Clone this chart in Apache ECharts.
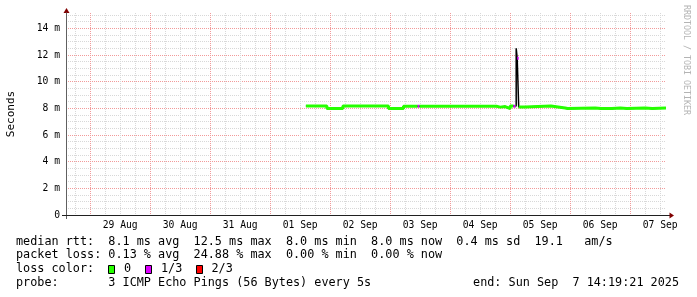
<!DOCTYPE html>
<html><head><meta charset="utf-8">
<script src="https://cdn.jsdelivr.net/npm/echarts@6/dist/echarts.min.js"></script>
<style>html,body{margin:0;padding:0;background:#fff}#c{width:697px;height:297px}</style>
</head><body><div id="c"></div>
<script>
// ---- data ----
const RANGE_START = '08-28 14:19:21';
const RANGE_END = '09-07 14:19:21';
const TIMES = ['09-01 14:17','09-01 22:41','09-02 05:05','09-02 23:19','09-03 05:19','09-03 11:00','09-03 11:40',
  '09-04 16:00','09-04 18:30','09-04 20:00','09-04 22:00','09-05 00:00','09-05 01:19','09-05 02:07',
  '09-05 02:24','09-05 02:48','09-05 03:24','09-05 06:00','09-05 16:17','09-05 22:00','09-05 22:55',
  '09-06 10:00','09-06 12:17','09-06 13:05','09-06 16:41','09-06 20:00','09-06 22:41','09-07 06:00',
  '09-07 08:48','09-07 14:19'];
const MEDIAN_MS = [8.17,7.99,8.17,7.99,8.16,8.16,8.16,
  8.15,8.09,8.13,7.98,8.18,8.15,8.17,
  12.5,11.75,8.10,8.17,8.03,7.99,8.03,
  7.98,8.05,7.99,8.03,7.99,8.02,7.99,
  8.02,8.02];
const LOSS = [0,0,0,0,0,1,0,
  0,0,0,0,0,1,0,
  null,1,0,0,0,0,0,
  0,0,0,0,0,0,0,
  0,0];
const LOSS_COLORS = ['#26ff00','#dd00ff','#ff0000'];
const LOSS_LABELS = ['0','1/3','2/3'];
const Y_TICKS = [0,2,4,6,8,10,12,14];
const Y_TICK_LABELS = ['0','2 m','4 m','6 m','8 m','10 m','12 m','14 m'];
const Y_MAX = 15.15;
const DAY_LABELS = ['29 Aug','30 Aug','31 Aug','01 Sep','02 Sep','03 Sep','04 Sep','05 Sep','06 Sep','07 Sep'];
const LEGEND_LINE1 = 'median rtt:  8.1 ms avg  12.5 ms max  8.0 ms min  8.0 ms now  0.4 ms sd  19.1   am/s';
const LEGEND_LINE2 = 'packet loss: 0.13 % avg  24.88 % max  0.00 % min  0.00 % now';
const LEGEND_LINE3 = 'loss color:';
const LEGEND_LINE4 = 'probe:       3 ICMP Echo Pings (56 Bytes) every 5s';
const END_TEXT = 'end: Sun Sep  7 14:19:21 2025';
const Y_NAME = 'Seconds';
const WATERMARK = 'RRDTOOL / TOBI OETIKER';

// ---- helpers ----
function hrs(s){
  const m = s.match(/(\d+)-(\d+) (\d+):(\d+)(?::(\d+))?/);
  return (Date.UTC(2025,+m[1]-1,+m[2],+m[3],+m[4],+(m[5]||0)) - Date.UTC(2025,7,28))/3600000;
}
const H = TIMES.map(hrs);
const X_MIN = hrs(RANGE_START), X_MAX = hrs(RANGE_END);
const minorX=[], majorX=[], noonX=[];
for(let h=Math.ceil(X_MIN/6)*6; h<X_MAX; h+=6){ if(h%24!==0) minorX.push(h); else majorX.push(h); }
DAY_LABELS.forEach((d,i)=>{ noonX.push(majorX[i]+12); });
const minorY=[], majorY=Y_TICKS.filter(v=>v>0);
for(let v=0.5; v<=Y_MAX; v+=0.5){ if(v%2!==0) minorY.push(v); }

function segs(level){
  const out=[]; let open=false;
  for(let i=0;i<H.length-1;i++){
    if(LOSS[i]===level){
      if(!open && out.length) out.push([H[i],'-']);
      out.push([H[i],MEDIAN_MS[i]]); out.push([H[i+1],MEDIAN_MS[i]]);
      open=true;
    } else open=false;
  }
  return out;
}

const MONO='DejaVu Sans Mono';
const GRAY='#d8d8d8', RED='#f29a9a';
const chart = echarts.init(document.getElementById('c'), null, {renderer:'canvas'});
const series = [{
  type:'line', xAxisIndex:0, yAxisIndex:0, step:'end', symbol:'none', z:2,
  data:H.map((h,i)=>[h,MEDIAN_MS[i]]), lineStyle:{color:'#000',width:1.5}, animation:false
}];
LOSS_COLORS.forEach((c,lvl)=>{
  series.push({type:'line', xAxisIndex:0, yAxisIndex:0, symbol:'none', z:3, connectNulls:false,
    data:segs(lvl), lineStyle:{color:c,width:3}, animation:false});
});

const labelFont = {fontFamily:MONO, fontSize:9.7, color:'#000'};
chart.setOption({
  animation:false,
  backgroundColor:'#fff',
  grid:{left:66, right:31, top:13, bottom:82, containLabel:false, outerBoundsMode:'none'},
  xAxis:[
    {type:'value', min:X_MIN, max:X_MAX, position:'bottom',
     axisLine:{show:true, lineStyle:{color:'#202020',width:1}},
     axisTick:{show:false, customValues:minorX}, axisLabel:{show:false},
     splitLine:{show:true, lineStyle:{color:GRAY, type:[1,1]}}},
    {type:'value', min:X_MIN, max:X_MAX, position:'bottom',
     axisLine:{show:false}, axisTick:{show:false, customValues:majorX}, axisLabel:{show:false},
     splitLine:{show:true, lineStyle:{color:RED, type:[1,1]}}},
    {type:'value', min:X_MIN, max:X_MAX, position:'bottom',
     axisLine:{show:false}, axisTick:{show:false, customValues:noonX},
     axisLabel:Object.assign({show:true, customValues:noonX, margin:5,
       formatter:v=>DAY_LABELS[noonX.indexOf(v)]||''}, labelFont),
     splitLine:{show:false}}
  ],
  yAxis:[
    {type:'value', min:0, max:Y_MAX, position:'left',
     axisLine:{show:true, lineStyle:{color:'#606060',width:1}},
     axisTick:{show:false, customValues:minorY}, axisLabel:{show:false},
     splitLine:{show:true, lineStyle:{color:GRAY, type:[1,1]}},
     name:Y_NAME, nameLocation:'middle', nameRotate:90, nameGap:49,
     nameTextStyle:{fontFamily:MONO, fontSize:11, color:'#000'}},
    {type:'value', min:0, max:Y_MAX, position:'left',
     axisLine:{show:false}, axisTick:{show:false, customValues:majorY},
     axisLabel:Object.assign({show:true, customValues:Y_TICKS, margin:6,
       formatter:v=>Y_TICK_LABELS[Y_TICKS.indexOf(v)]||''}, labelFont),
     splitLine:{show:true, lineStyle:{color:RED, type:[1,1]}}}
  ],
  series:series
});

// decorations: arrows, legend texts, watermark
const tl = chart.convertToPixel({gridIndex:0},[X_MIN,Y_MAX]);
const br = chart.convertToPixel({gridIndex:0},[X_MAX,0]);
const ARROW='#800000';
const legendFont = '11.8px "DejaVu Sans Mono"';
const g = [];
g.push({type:'line', shape:{x1:tl[0]-4,y1:br[1]+0.5,x2:tl[0],y2:br[1]+0.5}, style:{stroke:'#202020',lineWidth:1}});
g.push({type:'line', shape:{x1:br[0],y1:br[1]+0.5,x2:br[0]+4,y2:br[1]+0.5}, style:{stroke:'#202020',lineWidth:1}});
g.push({type:'line', shape:{x1:tl[0]+0.5,y1:br[1],x2:tl[0]+0.5,y2:br[1]+4}, style:{stroke:'#606060',lineWidth:1}});
g.push({type:'polygon', shape:{points:[[tl[0]+0.5,tl[1]-5],[tl[0]-2.5,tl[1]],[tl[0]+3.5,tl[1]]]}, style:{fill:ARROW}});
g.push({type:'polygon', shape:{points:[[br[0]+8,br[1]+0.5],[br[0]+3.5,br[1]-2.5],[br[0]+3.5,br[1]+3.5]]}, style:{fill:ARROW}});
const rows=[241.5,255.2,268.9,282.6];
[LEGEND_LINE1,LEGEND_LINE2,LEGEND_LINE3,LEGEND_LINE4].forEach((t,i)=>{
  g.push({type:'text', x:16, y:rows[i], style:{text:t, font:legendFont, fill:'#000', verticalAlign:'middle', align:'left'}});
});
g.push({type:'text', x:679, y:rows[3], style:{text:END_TEXT, font:legendFont, fill:'#000', verticalAlign:'middle', align:'right'}});
const boxX=[108.5,145.5,196.5], lblX=[124,161,211.5];
LOSS_COLORS.forEach((c,i)=>{
  g.push({type:'rect', shape:{x:boxX[i],y:265.5,width:6,height:8}, style:{fill:c,stroke:'#000',lineWidth:1}});
  g.push({type:'text', x:lblX[i], y:rows[2], style:{text:LOSS_LABELS[i], font:legendFont, fill:'#000', verticalAlign:'middle', align:'left'}});
});
g.push({type:'text', x:686.5, y:60, rotation:-Math.PI/2, style:{text:WATERMARK, font:'8.3px "DejaVu Sans Mono"', fill:'#b4b4b4', align:'center', verticalAlign:'middle'}});
chart.setOption({graphic:g});
</script></body></html>
